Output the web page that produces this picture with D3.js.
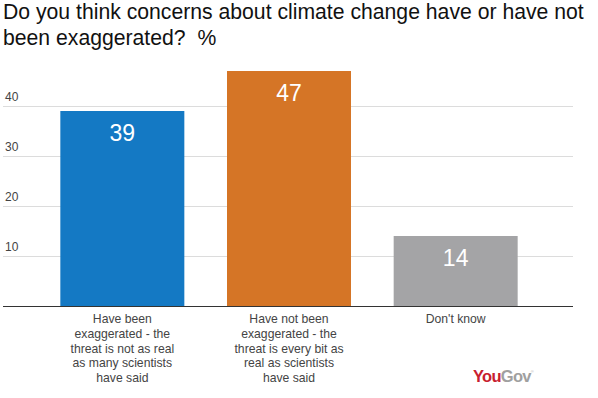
<!DOCTYPE html>
<html>
<head>
<meta charset="utf-8">
<script src="https://cdn.jsdelivr.net/npm/d3@7/dist/d3.min.js"></script>
<style>
  html, body { margin: 0; padding: 0; background: #fff; }
  svg { display: block; font-family: "Liberation Sans", Arial, sans-serif; }
  text { white-space: pre; }
</style>
</head>
<body>
<svg id="chart" width="598" height="398"></svg>
<script>
const categories = [
  ["Have been", "exaggerated - the", "threat is not as real", "as many scientists", "have said"],
  ["Have not been", "exaggerated - the", "threat is every bit as", "real as scientists", "have said"],
  ["Don't know"]
];
const values = [39, 47, 14];
const colors = ["#1479c4", "#d57526", "#a4a4a6"];
const yTicks = [10, 20, 30, 40];
const titleLines = ["Do you think concerns about climate change have or have not", "been exaggerated?  %"];

const svg = d3.select("#chart");

// Title
svg.append("g").selectAll("text").data(titleLines).join("text")
  .attr("x", 3)
  .attr("y", (d, i) => 19 + i * 26)
  .attr("font-size", 21.2)
  .attr("fill", "#111")
  .text(d => d);

const ids = d3.range(values.length);
const x = d3.scaleBand().domain(ids).range([39, 539]).paddingInner(0.256).paddingOuter(0.128);
const y = d3.scaleLinear().domain([0, 50]).range([306, 56]);

// Gridlines & tick labels
const grid = svg.append("g");
grid.selectAll("line").data(yTicks).join("line")
  .attr("x1", 3).attr("x2", 573)
  .attr("y1", d => Math.round(y(d)) + 0.5).attr("y2", d => Math.round(y(d)) + 0.5)
  .attr("stroke", "#dcdcdc").attr("stroke-width", 1);
grid.selectAll("text").data(yTicks).join("text")
  .attr("x", 5)
  .attr("y", d => y(d) - 5)
  .attr("font-size", 12)
  .attr("fill", "#444")
  .text(d => d);

// Bars
svg.append("g").selectAll("rect").data(ids).join("rect")
  .attr("x", i => x(i))
  .attr("y", i => y(values[i]))
  .attr("width", x.bandwidth())
  .attr("height", i => y(0) - y(values[i]))
  .attr("fill", i => colors[i]);

// Value labels
svg.append("g").selectAll("text").data(ids).join("text")
  .attr("x", i => x(i) + x.bandwidth() / 2)
  .attr("y", i => y(values[i]) + 30)
  .attr("text-anchor", "middle")
  .attr("font-size", 23)
  .attr("fill", "#fff")
  .text(i => values[i]);

// Baseline
svg.append("line")
  .attr("x1", 3).attr("x2", 573)
  .attr("y1", y(0) + 0.5).attr("y2", y(0) + 0.5)
  .attr("stroke", "#333").attr("stroke-width", 1);

// Category labels
const cat = svg.append("g").selectAll("text").data(ids).join("text")
  .attr("x", i => x(i) + x.bandwidth() / 2)
  .attr("y", 323)
  .attr("text-anchor", "middle")
  .attr("font-size", 12.2)
  .attr("fill", "#444");
cat.selectAll("tspan").data(i => categories[i]).join("tspan")
  .attr("x", function() { return d3.select(this.parentNode).attr("x"); })
  .attr("dy", (d, j) => j === 0 ? 0 : 14.8)
  .text(d => d);

// YouGov logo
const logo = svg.append("text")
  .attr("x", 473).attr("y", 382)
  .attr("font-size", 16.5)
  .attr("font-weight", "bold")
  .attr("letter-spacing", -0.7);
logo.append("tspan").attr("fill", "#c8202f").text("You");
logo.append("tspan").attr("fill", "#a0a0a0").text("Gov");
logo.append("tspan").attr("fill", "#b0b0b0").attr("font-size", 4).attr("dy", -9).attr("font-weight", "normal").text("®");
</script>
</body>
</html>
